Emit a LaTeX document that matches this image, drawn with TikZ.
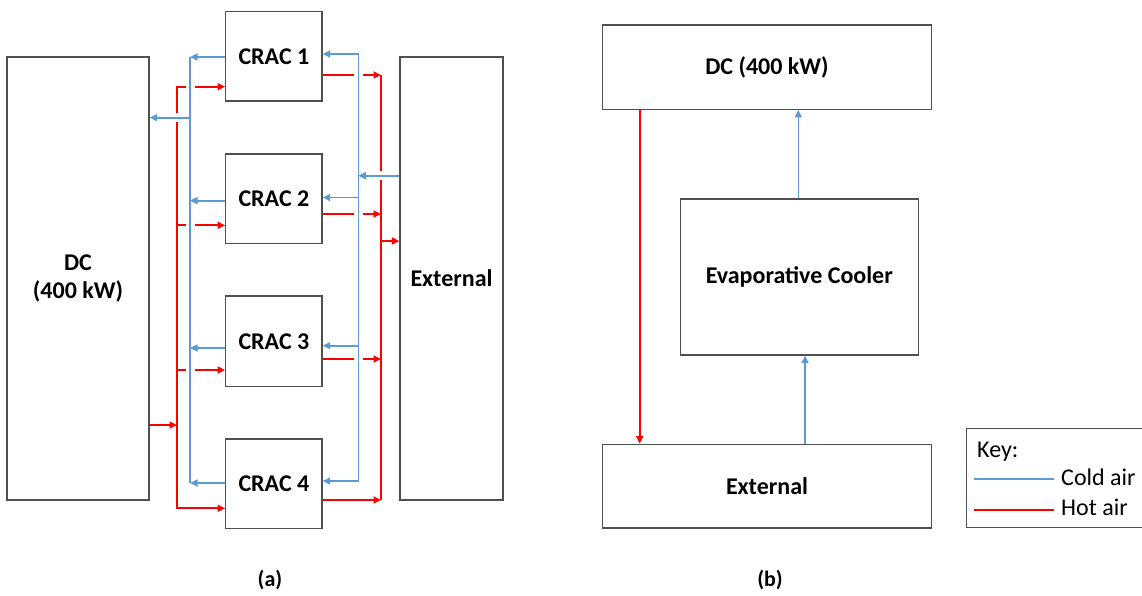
\documentclass[tikz,border=0pt]{standalone}
\usepackage{fontspec}
\setmainfont{Carlito}
\usetikzlibrary{arrows.meta}
\definecolor{coldblue}{RGB}{91,155,213}
\definecolor{hotred}{RGB}{255,0,0}
\definecolor{boxgray}{RGB}{80,80,80}

\begin{document}
\begin{tikzpicture}[x=1pt,y=-1pt,
  box/.style={draw=boxgray, line width=1.3pt, inner sep=0pt, align=center,
    font=\fontsize{24}{28.5}\selectfont\bfseries},
  keytext/.style={inner sep=0pt, font=\fontsize{24}{28}\selectfont},
  caption/.style={inner sep=0pt, font=\fontsize{22}{26}\selectfont\bfseries},
  tip/.style={-{Triangle[length=7.5pt,width=7pt]}},
  bothtips/.style={{Triangle[length=7.5pt,width=7pt]}-{Triangle[length=7.5pt,width=7pt]}},
  cold/.style={draw=coldblue, line width=1.6pt},
  hot/.style={draw=hotred, line width=1.7pt},
  halo/.style={draw=white, line width=9pt, shorten <=5pt, shorten >=5pt},
]
\useasboundingbox (0,0) rectangle (1142,595);

% ---------- (a) CRAC-based cooling ----------
\node[box, minimum width=142pt, minimum height=443pt] (dcA) at (78,278.5) {DC\\(400 kW)};
\node[box, minimum width=96.3pt, minimum height=89.3pt] (crac1) at (273.9,56.3) {CRAC 1};
\node[box, minimum width=96.3pt, minimum height=89.7pt] (crac2) at (273.9,198.9) {CRAC 2};
\node[box, minimum width=96.3pt, minimum height=90.7pt] (crac3) at (273.9,341.3) {CRAC 3};
\node[box, minimum width=96.3pt, minimum height=89.7pt] (crac4) at (273.9,483.8) {CRAC 4};
\node[box, minimum width=103pt, minimum height=443pt] (extA) at (451.5,278.5) {External};

% bus junctions
\coordinate (hL1) at (177,86.7);  \coordinate (hL2) at (177,225.3);
\coordinate (hL3) at (177,370);   \coordinate (hL4) at (177,508.3);
\coordinate (hLdc) at (177,425);
\coordinate (cL1) at (190,57);    \coordinate (cL2) at (190,200.7);
\coordinate (cL3) at (190,348);   \coordinate (cL4) at (190,483);
\coordinate (cLdc) at (190,117.7);
\coordinate (cR1) at (358.3,54);  \coordinate (cR2) at (358.3,197.5);
\coordinate (cR3) at (358.3,345.7); \coordinate (cR4) at (358.3,481);
\coordinate (cRx) at (358.3,175.7);
\coordinate (hR1) at (381,75);    \coordinate (hR2) at (381,214);
\coordinate (hR3) at (381,359);   \coordinate (hR4) at (381,500);
\coordinate (hRx) at (381,241);

% hot air
\draw[hot,tip] (dcA.east |- hLdc) -- (hLdc);
\draw[hot,bothtips] (crac1.west |- hL1) -- (hL1) -- (hL4) -- (crac4.west |- hL4);
\draw[hot,tip] (hL2) -- (crac2.west |- hL2);
\draw[hot,tip] (hL3) -- (crac3.west |- hL3);
\draw[hot,tip] (crac1.east |- hR1) -- (hR1);
\draw[hot,tip] (crac2.east |- hR2) -- (hR2);
\draw[hot,tip] (crac3.east |- hR3) -- (hR3);
\draw[hot] (hR1) -- (hR4);
\draw[hot,tip] (crac4.east |- hR4) -- (hR4);
\draw[hot,tip] (hRx) -- (extA.west |- hRx);

% gaps where cold lines cross hot lines
\draw[halo] (cL1) -- (cL4);
\draw[halo] (cLdc) -- (dcA.east |- cLdc);
\draw[halo] (cR1) -- (cR4);
\draw[halo] (extA.west |- cRx) -- (cRx);

% cold air
\draw[cold] (cL1) -- (cL4);
\draw[cold,tip] (crac1.west |- cL1) -- (cL1);
\draw[cold,tip] (crac2.west |- cL2) -- (cL2);
\draw[cold,tip] (crac3.west |- cL3) -- (cL3);
\draw[cold,tip] (crac4.west |- cL4) -- (cL4);
\draw[cold,tip] (cLdc) -- (dcA.east |- cLdc);
\draw[cold,bothtips] (crac1.east |- cR1) -- (cR1) -- (cR4) -- (crac4.east |- cR4);
\draw[cold,tip] (cR2) -- (crac2.east |- cR2);
\draw[cold,tip] (cR3) -- (crac3.east |- cR3);
\draw[cold,tip] (extA.west |- cRx) -- (cRx);

\node[caption] (capA) at (270,580) {(a)};

% ---------- (b) evaporative cooling ----------
\node[box, minimum width=329.4pt, minimum height=84.3pt] (dcB) at (767,67.15) {DC (400 kW)};
\node[box, minimum width=238pt, minimum height=156pt] (evap) at (799.3,277) {Evaporative Cooler};
\node[box, minimum width=329.4pt, minimum height=83.7pt] (extB) at (767,486.15) {External};

\draw[hot,tip] (dcB.south -| 639.7,0) -- (extB.north -| 639.7,0);
\draw[cold,tip] (evap.north -| 798.3,0) -- (dcB.south -| 798.3,0);
\draw[cold,tip] (extB.north -| 805,0) -- (evap.south -| 805,0);

\node[caption] (capB) at (770,580) {(b)};

% ---------- key ----------
\node[draw=boxgray, line width=1.3pt, minimum width=193.3pt, minimum height=99.4pt] (key) at (1063.35,478) {};
\node[keytext, anchor=base west] (keyhead) at (977,457.5) {Key:};
\coordinate (kc1) at (974.3,479); \coordinate (kc2) at (1054,479);
\coordinate (kh1) at (974.3,510); \coordinate (kh2) at (1054,510);
\draw[cold] (kc1) -- (kc2);
\draw[hot] (kh1) -- (kh2);
\node[keytext, anchor=base west] (keycold) at (1061,485) {Cold air};
\node[keytext, anchor=base west] (keyhot) at (1061,515.5) {Hot air};
\end{tikzpicture}
\end{document}
